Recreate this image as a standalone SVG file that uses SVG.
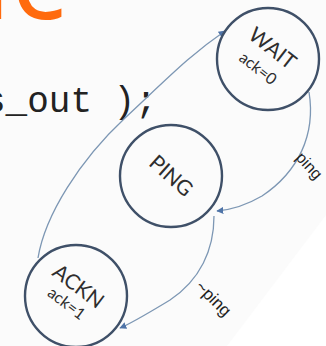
<svg xmlns="http://www.w3.org/2000/svg" width="326" height="346" viewBox="0 0 326 346">
  <style>
    .state { fill: none; stroke: #3f5068; stroke-width: 2.4; }
    .edge { fill: none; stroke: #7d97b4; stroke-width: 1.3; }
    .name { font-family: Lato, "Liberation Sans", sans-serif; fill: #2e2e2e; text-anchor: middle; }
    .sub { font-family: Lato, "Liberation Sans", sans-serif; fill: #2e2e2e; text-anchor: middle; }
    .cond { font-family: "Liberation Sans", Arial, sans-serif; fill: #1e1e1e; text-anchor: middle; }
  </style>
  <defs>
    <marker id="arrow" viewBox="0 0 10 10" refX="9" refY="5" markerWidth="7" markerHeight="7" markerUnits="userSpaceOnUse" orient="auto">
      <path d="M0,0 L10,5 L0,10 z" fill="#4f74a8"/>
    </marker>
  </defs>

  <!-- slide background and pasted figure sheet -->
  <rect width="326" height="346" fill="#ffffff"/>
  <polygon points="326,0 326,215 227,346 0,346 0,0" fill="#fbfbfb"/>

  <!-- slide title fragment and code line -->
  <text x="66" y="19" font-family="'Open Sans', 'Liberation Sans', sans-serif" font-size="115" fill="#ff6a0d" text-anchor="end">ic</text>
  <text x="-16" y="112" font-family="'Liberation Mono', 'Courier New', monospace" font-size="36" fill="#222">s_out );</text>

  <!-- connectors -->
  <g id="connectors">
    <path class="edge" d="M38,258 C45,215 80,160 125,118 S190,55 225,31" marker-end="url(#arrow)"/>
    <path class="edge" d="M309,92 C316,135 298,172 262,196 C245,206 228,210 217,211" marker-end="url(#arrow)"/>
    <path class="edge" d="M214,216 C214,250 200,280 170,300 C145,315 132,323 120,328" marker-end="url(#arrow)"/>
    <text class="cond" font-size="16" transform="translate(309,166) rotate(47)" y="5">ping</text>
    <text class="cond" font-size="17" transform="translate(213,299) rotate(45)" y="5">~ping</text>
  </g>

  <!-- states -->
  <g id="wait">
    <circle class="state" cx="268" cy="59" r="51"/>
    <g transform="translate(268,59) rotate(38)">
      <text class="name" x="-3" y="-4" font-size="21">WAIT</text>
      <text class="sub" x="-2" y="19" font-size="16">ack=0</text>
    </g>
  </g>
  <g id="ping">
    <circle class="state" cx="171" cy="176" r="51"/>
    <g transform="translate(171,176) rotate(42)">
      <text class="name" x="0" y="7" font-size="21">PING</text>
    </g>
  </g>
  <g id="ackn">
    <circle class="state" cx="76" cy="296" r="51"/>
    <g transform="translate(76,296) rotate(37)">
      <text class="name" x="-4" y="-2" font-size="21">ACKN</text>
      <text class="sub" x="-3" y="17" font-size="16">ack=1</text>
    </g>
  </g>
</svg>
